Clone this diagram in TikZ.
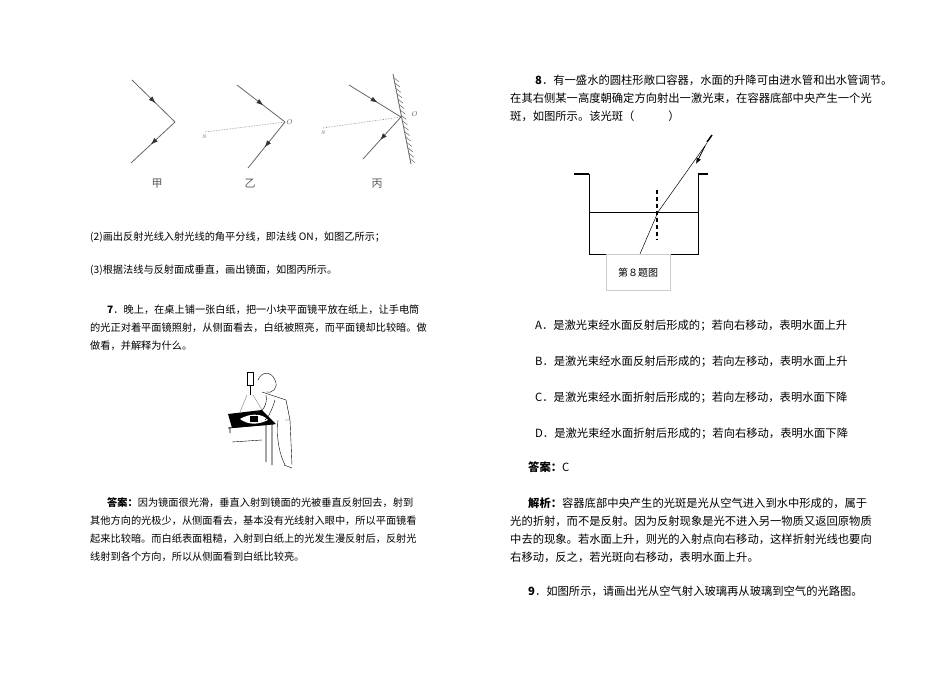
\documentclass[tikz,border=0pt]{standalone}
\usepackage{fontspec}
\newfontfamily\cjk{Noto Sans CJK SC}
\usetikzlibrary{decorations.markings,arrows.meta,calc}
\begin{document}
\begin{tikzpicture}[x=1pt,y=-1pt,
  lt/.style={anchor=west,inner sep=0,font=\cjk\fontsize{10.2}{12}\selectfont},
  rt/.style={anchor=west,inner sep=0,font=\cjk\fontsize{11.3}{13}\selectfont},
  ray/.style={draw=gray!80!black,line width=0.8pt,postaction={decorate},decoration={markings,mark=at position 0.55 with {\arrow[black!80]{Latex[length=7pt,width=5pt]}}}},
  nrm/.style={draw=gray,densely dotted,line width=0.6pt},
  lab/.style={font=\cjk\fontsize{11}{12}\selectfont,text=gray!70!black,inner sep=0}]
\useasboundingbox (0,0) rectangle (950,672);
% figures jia yi bing
\coordinate (a1) at (132,80); \coordinate (av) at (175,122); \coordinate (a2) at (131,163);
\draw[ray] (a1) -- (av); \draw[ray] (av) -- (a2);
\coordinate (b1) at (237,85); \coordinate (bo) at (285,122); \coordinate (b2) at (248,168); \coordinate (bn) at (205,132);
\draw[ray] (b1) -- (bo); \draw[ray] (bo) -- (b2); \draw[nrm] (bn) -- (bo);
\node[lab,font=\itshape\tiny] at (204,137) {N}; \node[lab,font=\itshape\scriptsize] at (289,122) {O};
\coordinate (c1) at (349,85); \coordinate (co) at (401,117); \coordinate (c2) at (363,159); \coordinate (cn) at (323,128);
\draw[ray] (c1) -- (co); \draw[ray] (co) -- (c2); \draw[nrm] (cn) -- (co);
\node[lab,font=\itshape\tiny] at (323,133) {N}; \node[lab,font=\itshape\scriptsize] at (414,114) {O};
\coordinate (m1) at (393,74); \coordinate (m2) at (411,164);
\draw[gray!80!black,line width=0.8pt] (m1) -- (m2);
\foreach \t in {0.04,0.1,...,0.98} \draw[gray!80!black,line width=0.5pt] ($(m1)!\t!(m2)$) -- ++(5,4);
\node[lab] at (157,184) {甲}; \node[lab] at (250,184) {乙}; \node[lab] at (377,184) {丙};
% left text
\node[lt] at (90,237) {(2)画出反射光线入射光线的角平分线，即法线 \textit{ON}，如图乙所示；};
\node[lt] at (90,270) {(3)根据法线与反射面成垂直，画出镜面，如图丙所示。};
\node[lt] at (107,310) {\textbf{7}．晚上，在桌上铺一张白纸，把一小块平面镜平放在纸上，让手电筒};
\node[lt] at (90,328) {的光正对着平面镜照射，从侧面看去，白纸被照亮，而平面镜却比较暗。做};
\node[lt] at (90,346) {做看，并解释为什么。};
% person picture
\fill (228,414) -- (262,410) -- (276,424) -- (232,428) -- cycle;
\fill[white] (240,419) .. controls (250,413) and (262,413) .. (268,420) .. controls (258,425) and (248,425) .. (240,419) -- cycle;
\fill (250,416) rectangle (258,422);
\draw[line width=0.8pt] (228,428) -- (274,424) (230,428) -- (230,433) (272,425) -- (272,465) (266,425) -- (266,462);
\draw (232,442) -- (262,440);
\draw (247,372) rectangle (253,385); \draw (250,385) -- (250,395);
\draw[gray] (247,395) -- (240,412) (253,395) -- (262,410);
\draw (258,380) .. controls (262,370) and (272,372) .. (275,380) .. controls (279,388) and (272,394) .. (266,392);
\draw (262,392) -- (286,400) -- (290,420) -- (285,420);
\draw (278,420) .. controls (276,440) and (280,455) .. (285,465) (290,420) -- (292,465);
\draw (284,465) -- (292,468) (266,395) .. controls (268,405) and (262,412) .. (256,415);
\draw (275,400) .. controls (272,410) and (268,418) .. (265,420);
% left answer
\node[lt] at (107,503) {\textbf{答案：}因为镜面很光滑，垂直入射到镜面的光被垂直反射回去，射到};
\node[lt] at (90,521) {其他方向的光极少，从侧面看去，基本没有光线射入眼中，所以平面镜看};
\node[lt] at (90,539) {起来比较暗。而白纸表面粗糙，入射到白纸上的光发生漫反射后，反射光};
\node[lt] at (90,557) {线射到各个方向，所以从侧面看到白纸比较亮。};
% right text
\node[rt] at (535,80) {\textbf{8}．有一盛水的圆柱形敞口容器，水面的升降可由进水管和出水管调节。};
\node[rt] at (510,98) {在其右侧某一高度朝确定方向射出一激光束，在容器底部中央产生一个光};
\node[rt] at (510,116) {斑，如图所示。该光斑（\hspace{3em}）};
% container
\coordinate (r1) at (574,174); \coordinate (r2) at (589,174); \coordinate (r3) at (589,254);
\coordinate (r4) at (698,254); \coordinate (r5) at (698,174); \coordinate (r6) at (708,174);
\draw[line width=0.6pt] (r1) -- (r2) -- (r3) -- (r4) -- (r5) -- (r6);
\draw[line width=1.4pt] (r1) -- (r2) (r5) -- (r6);
\draw (589,212) -- (698,212);
\draw[line width=1.2pt,dash pattern=on 4pt off 3pt] (657,190) -- (657,240);
\coordinate (L) at (707,143); \coordinate (P) at (658,212); \coordinate (S) at (640,254);
\draw[line width=0.5pt] (L) -- (P) -- (S);
\draw[-{Latex[length=6pt,width=5pt]},line width=0.8pt] (705,146) -- (696,164);
\draw[line width=1.5pt] (707,142) -- (712,135);
\node[draw=gray!40,minimum width=64pt,minimum height=36pt,anchor=north west,inner sep=0] (cap) at (606,254) {};
\node[font=\cjk\fontsize{10}{12}\selectfont] at (cap.center) {第８题图};
% options
\node[rt] at (535,326) {A．是激光束经水面反射后形成的；若向右移动，表明水面上升};
\node[rt] at (535,362) {B．是激光束经水面反射后形成的；若向左移动，表明水面上升};
\node[rt] at (535,398) {C．是激光束经水面折射后形成的；若向左移动，表明水面下降};
\node[rt] at (535,434) {D．是激光束经水面折射后形成的；若向右移动，表明水面下降};
\node[rt] at (528,467) {\textbf{答案：}C};
\node[rt] at (528,503) {\textbf{解析：}容器底部中央产生的光斑是光从空气进入到水中形成的，属于};
\node[rt] at (510,521) {光的折射，而不是反射。因为反射现象是光不进入另一物质又返回原物质};
\node[rt] at (510,539) {中去的现象。若水面上升，则光的入射点向右移动，这样折射光线也要向};
\node[rt] at (510,557) {右移动，反之，若光斑向右移动，表明水面上升。};
\node[rt] at (528,591) {\textbf{9}．如图所示，请画出光从空气射入玻璃再从玻璃到空气的光路图。};
\end{tikzpicture}
\end{document}
